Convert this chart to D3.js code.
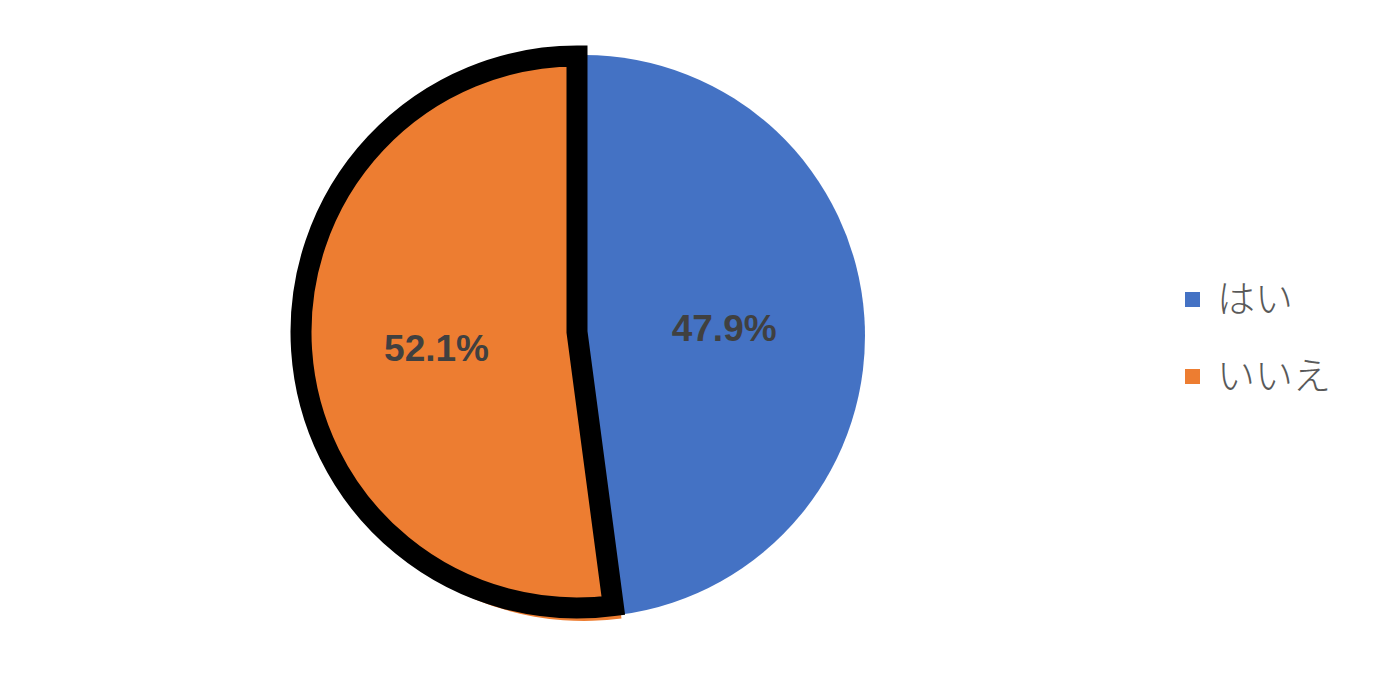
<!DOCTYPE html>
<html>
<head>
<meta charset="utf-8">
<script src="https://cdn.jsdelivr.net/npm/d3@7"></script>
<style>
  body { margin: 0; background: #fff; }
</style>
</head>
<body>
<script>
// data
var categories = ["はい", "いいえ"];
var values = [47.9, 52.1];
var colors = ["#4472C4", "#ED7D31"];

var width = 1384, height = 676;

var svg = d3.select("body").append("svg")
    .attr("width", width)
    .attr("height", height);

var pie = d3.pie().sort(null).value(function(d) { return d; });
var arcs = pie(values);

var cx = 584, cy = 336, r = 281;
// exploded slice ("いいえ")
var ex = 577, ey = 332, er = 276;

var arc = d3.arc().innerRadius(0).outerRadius(r);
var arcEx = d3.arc().innerRadius(0).outerRadius(er);
var labelArc = d3.arc().innerRadius(r * 0.5).outerRadius(r * 0.5);

// original position of orange slice, slightly visible under the border
svg.append("path")
    .attr("transform", "translate(" + cx + "," + cy + ")")
    .attr("d", d3.arc().innerRadius(0).outerRadius(r + 4)(arcs[1]))
    .style("fill", colors[1]);

svg.append("path")
    .attr("transform", "translate(" + cx + "," + cy + ")")
    .attr("d", arc(arcs[0]))
    .style("fill", colors[0]);

svg.append("path")
    .attr("transform", "translate(" + ex + "," + ey + ")")
    .attr("d", arcEx(arcs[1]))
    .style("fill", colors[1])
    .style("stroke", "#000")
    .style("stroke-width", 21)
    .style("stroke-linejoin", "miter");

// data labels
var c0 = labelArc.centroid(arcs[0]);
svg.append("text")
    .attr("x", cx + c0[0])
    .attr("y", cy + c0[1] + 14)
    .attr("text-anchor", "middle")
    .style("font-family", "Liberation Sans, Arial, sans-serif")
    .style("font-weight", "bold")
    .style("font-size", "37px")
    .style("fill", "#404040")
    .text(values[0].toFixed(1) + "%");

var c1 = d3.arc().innerRadius(er * 0.51).outerRadius(er * 0.51).centroid(arcs[1]);
svg.append("text")
    .attr("x", ex + c1[0])
    .attr("y", ey + c1[1] + 20)
    .attr("text-anchor", "middle")
    .style("font-family", "Liberation Sans, Arial, sans-serif")
    .style("font-weight", "bold")
    .style("font-size", "37px")
    .style("fill", "#404040")
    .text(values[1].toFixed(1) + "%");

// legend
var legend = svg.selectAll("g.legend")
    .data(categories)
    .enter().append("g")
    .attr("class", "legend")
    .attr("transform", function(d, i) { return "translate(1185," + (292 + i * 77) + ")"; });

legend.append("rect")
    .attr("width", 15)
    .attr("height", 15)
    .style("fill", function(d, i) { return colors[i]; });

legend.append("text")
    .attr("x", 32)
    .attr("y", 20)
    .style("font-family", "Noto Sans CJK JP")
    .style("font-weight", 300)
    .style("font-size", "38px")
    .style("fill", "#595959")
    .text(function(d) { return d; });
</script>
</body>
</html>
